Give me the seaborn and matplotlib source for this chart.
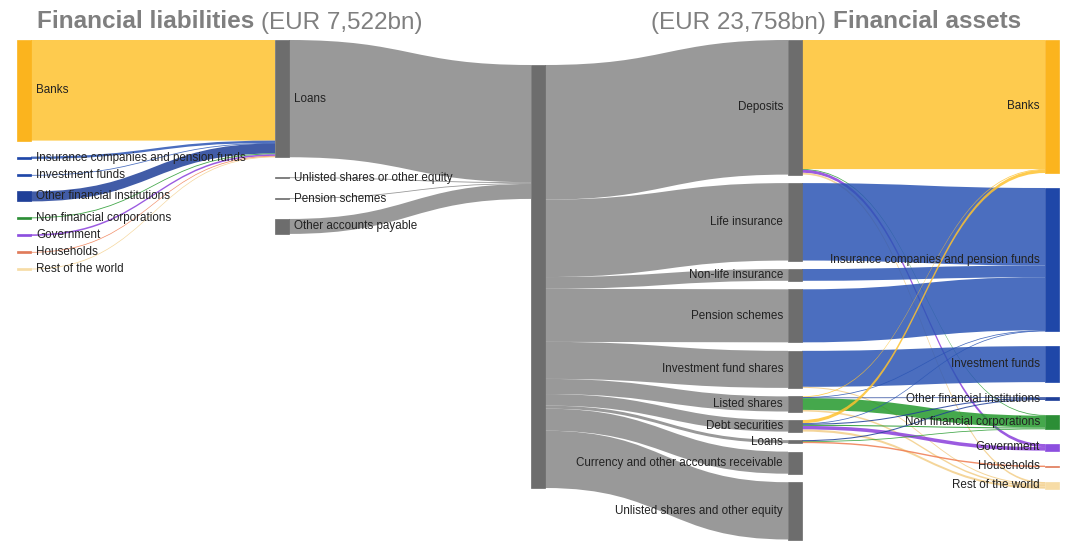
import matplotlib
matplotlib.use("Agg")
import matplotlib.pyplot as plt
from matplotlib.patches import PathPatch, Rectangle
from matplotlib.path import Path
import seaborn as sns

# ---- data (EUR bn) ----
sectors = ["Banks", "Insurance companies and pension funds", "Investment funds",
           "Other financial institutions", "Non financial corporations",
           "Government", "Households", "Rest of the world"]

# liabilities: loans by lending sector
loans_by_lender = [5650, 130, 30, 560, 50, 90, 40, 35]

liab_instruments = ["Loans", "Unlisted shares or other equity", "Pension schemes",
                    "Other accounts payable"]
liab_other = [50, 47, 840]

asset_instruments = ["Deposits", "Life insurance", "Non-life insurance", "Pension schemes",
                     "Investment fund shares", "Listed shares", "Debt securities", "Loans",
                     "Currency and other accounts receivable",
                     "Unlisted shares and other equity"]
asset_values = [7560, 4350, 660, 2980, 2080, 850, 650, 170, 1240, 3218]

# assets by counterpart sector (same order as sectors)
deposits_by_sector = [7250, 0, 0, 0, 40, 170, 0, 100]
life_by_sector = [0, 4350, 0, 0, 0, 0, 0, 0]
nonlife_by_sector = [0, 660, 0, 0, 0, 0, 0, 0]
pension_by_sector = [0, 2980, 0, 0, 0, 0, 0, 0]
fund_shares_by_sector = [0, 0, 2020, 0, 0, 0, 0, 60]
listed_by_sector = [40, 20, 0, 40, 660, 0, 0, 90]
debt_by_sector = [180, 30, 0, 60, 60, 200, 0, 120]
loans_by_sector = [0, 0, 0, 60, 30, 0, 80, 0]

# colours per sector: node, link
node_colors = ["#FBB41E", "#1F47A8", "#1F47A8", "#1F3F98", "#2C8E36",
               "#8C4FDF", "#E07B5A", "#F7DCA6"]
link_colors = ["#FEC22F", "#2B55B4", "#2B55B4", "#1F3F98", "#24992C",
               "#8A3EDB", "#EF7B4F", "#F3CE88"]
GREY_NODE = "#6d6d6d"
GREY_LINK = "#808080"

# ---- layout ----
SCALE = 423 / 23758  # px per EUR bn
NODE_W = 14

sns.set_theme(style="white")
plt.rcParams["font.family"] = ["Liberation Sans", "DejaVu Sans"]

fig = plt.figure(figsize=(10.66, 5.42), dpi=100)
ax = fig.add_axes([0, 0, 1, 1])
ax.set_xlim(0, 1066)
ax.set_ylim(542, 0)
ax.axis("off")

nodes = []


def stack(values, x, top, gap, face):
    ids = []
    y = top
    for i, v in enumerate(values):
        h = v * SCALE
        fc = face[i] if isinstance(face, list) else face
        nodes.append(dict(x=x, y0=y, h=h, fc=fc))
        ids.append(len(nodes) - 1)
        y += h + gap
    return ids


asset_matrix = [deposits_by_sector, life_by_sector, nonlife_by_sector, pension_by_sector,
                fund_shares_by_sector, listed_by_sector, debt_by_sector, loans_by_sector,
                [0] * 8, [0] * 8]
liab_values = [sum(loans_by_lender)] + liab_other
sector_assets = [sum(row[s] for row in asset_matrix) for s in range(len(sectors))]

col1 = stack(loans_by_lender, 17, 40, 16, node_colors)
col2 = stack(liab_values, 275, 40, 20, GREY_NODE)
col3 = stack([max(sum(liab_values), sum(asset_values))], 531, 65, 0, GREY_NODE)
col4 = stack(asset_values, 788, 40, 8.5, GREY_NODE)
col5 = stack(sector_assets, 1045, 40, 15, node_colors)

links = []
for i, v in enumerate(loans_by_lender):
    links.append(dict(s=col1[i], t=col2[0], v=v, c=link_colors[i]))
for j, v in enumerate(liab_values):
    links.append(dict(s=col2[j], t=col3[0], v=v, c=GREY_LINK))
for k, v in enumerate(asset_values):
    links.append(dict(s=col3[0], t=col4[k], v=v, c=GREY_LINK))
for k, row in enumerate(asset_matrix):
    for s, v in enumerate(row):
        if v > 0:
            links.append(dict(s=col4[k], t=col5[s], v=v, c=link_colors[s]))

# stack link ends on each node, ordered by the other end's position
for n, node in enumerate(nodes):
    outs = sorted([l for l in links if l["s"] == n], key=lambda l: nodes[l["t"]]["y0"])
    y = node["y0"]
    for l in outs:
        l["sy"] = y
        y += l["v"] * SCALE
    ins = sorted([l for l in links if l["t"] == n], key=lambda l: nodes[l["s"]]["y0"])
    y = node["y0"]
    for l in ins:
        l["ty"] = y
        y += l["v"] * SCALE

for l in links:
    x0 = nodes[l["s"]]["x"] + NODE_W
    x1 = nodes[l["t"]]["x"]
    w = max(l["v"] * SCALE, 0.8)
    xm = (x0 + x1) / 2
    y0, y1 = l["sy"], l["ty"]
    verts = [(x0, y0), (xm, y0), (xm, y1), (x1, y1), (x1, y1 + w),
             (xm, y1 + w), (xm, y0 + w), (x0, y0 + w), (x0, y0)]
    codes = [Path.MOVETO, Path.CURVE4, Path.CURVE4, Path.CURVE4, Path.LINETO,
             Path.CURVE4, Path.CURVE4, Path.CURVE4, Path.CLOSEPOLY]
    alpha = 0.8 if l["c"] == GREY_LINK else 0.85
    ax.add_patch(PathPatch(Path(verts, codes), fc=l["c"], ec="none", alpha=alpha, zorder=1))

for node in nodes:
    h = max(node["h"], 1.6)
    ax.add_patch(Rectangle((node["x"], node["y0"] + node["h"] / 2 - h / 2), NODE_W, h,
                           fc=node["fc"], ec=node["fc"], lw=0.5, zorder=2))

# labels
label_kw = dict(fontsize=8.4, color="#222222", va="center", zorder=3)
for ids, names, side in [(col1, sectors, "r"), (col2, liab_instruments, "r"),
                         (col4, asset_instruments, "l"), (col5, sectors, "l")]:
    for n, name in zip(ids, names):
        node = nodes[n]
        yc = node["y0"] + node["h"] / 2
        if side == "r":
            ax.text(node["x"] + NODE_W + 5, yc, name, ha="left", **label_kw)
        else:
            ax.text(node["x"] - 5, yc, name, ha="right", **label_kw)

# titles: bold part + normal part on one baseline
title_kw = dict(fontsize=17.5, color="#7f7f7f", va="baseline")
renderer = fig.canvas.get_renderer()
inv = ax.transData.inverted()

t1 = ax.text(37, 28.5, "Financial liabilities", weight="bold", ha="left", **title_kw)
x_end = inv.transform((t1.get_window_extent(renderer).x1, 0))[0]
ax.text(x_end + 7, 28.5, "(EUR 7,522bn)", ha="left", **title_kw)

t2 = ax.text(1021, 28.5, "Financial assets", weight="bold", ha="right", **title_kw)
x_start = inv.transform((t2.get_window_extent(renderer).x0, 0))[0]
ax.text(x_start - 7, 28.5, "(EUR 23,758bn)", ha="right", **title_kw)

fig.savefig("out.png", dpi=100, facecolor="white")
